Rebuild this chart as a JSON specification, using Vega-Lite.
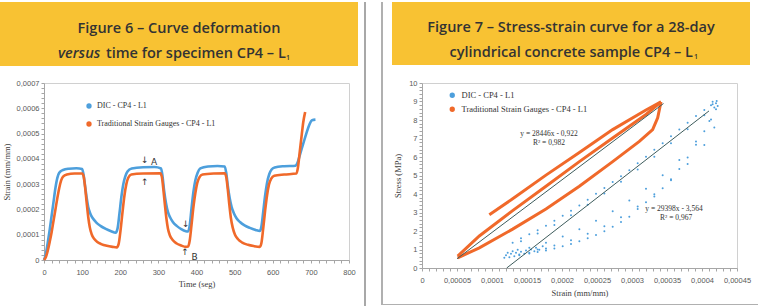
{
  "$schema": "https://vega.github.io/schema/vega-lite/v6.json",
  "background": "#ffffff",
  "padding": {"left": 0, "top": 2, "right": 0, "bottom": 0},
  "config": {
    "view": {"stroke": "#d0d0d0", "strokeWidth": 1},
    "axis": {"grid": false, "domainColor": "#a6a6a6", "tickColor": "#a6a6a6", "tickSize": 3, "labelFont": "Liberation Sans", "labelFontSize": 7.5, "labelColor": "#595959", "titleFont": "Liberation Serif", "titleFontSize": 8.5, "titleFontWeight": "normal", "titleColor": "#404040", "labelOverlap": false, "labelBound": false},
    "legend": {"labelFont": "Liberation Serif", "labelColor": "#333333", "padding": 0}
  },
  "datasets": {
    "fig6": [
      {"s":"DIC - CP4 - L1","t":0,"strain":0},{"s":"DIC - CP4 - L1","t":5,"strain":0.000025},{"s":"DIC - CP4 - L1","t":10,"strain":0.00007},{"s":"DIC - CP4 - L1","t":15,"strain":0.00012},{"s":"DIC - CP4 - L1","t":20,"strain":0.000175},{"s":"DIC - CP4 - L1","t":25,"strain":0.00023},{"s":"DIC - CP4 - L1","t":30,"strain":0.000285},{"s":"DIC - CP4 - L1","t":35,"strain":0.000325},{"s":"DIC - CP4 - L1","t":40,"strain":0.000345},{"s":"DIC - CP4 - L1","t":50,"strain":0.000356},{"s":"DIC - CP4 - L1","t":65,"strain":0.000361},{"s":"DIC - CP4 - L1","t":85,"strain":0.000363},{"s":"DIC - CP4 - L1","t":100,"strain":0.00036},{"s":"DIC - CP4 - L1","t":104,"strain":0.000335},{"s":"DIC - CP4 - L1","t":108,"strain":0.00029},{"s":"DIC - CP4 - L1","t":112,"strain":0.000245},{"s":"DIC - CP4 - L1","t":116,"strain":0.00021},{"s":"DIC - CP4 - L1","t":121,"strain":0.000185},{"s":"DIC - CP4 - L1","t":128,"strain":0.000165},{"s":"DIC - CP4 - L1","t":136,"strain":0.00015},{"s":"DIC - CP4 - L1","t":148,"strain":0.000135},{"s":"DIC - CP4 - L1","t":162,"strain":0.000123},{"s":"DIC - CP4 - L1","t":176,"strain":0.000114},{"s":"DIC - CP4 - L1","t":188,"strain":0.000108},{"s":"DIC - CP4 - L1","t":193,"strain":0.000125},{"s":"DIC - CP4 - L1","t":198,"strain":0.000185},{"s":"DIC - CP4 - L1","t":203,"strain":0.00025},{"s":"DIC - CP4 - L1","t":208,"strain":0.0003},{"s":"DIC - CP4 - L1","t":213,"strain":0.00033},{"s":"DIC - CP4 - L1","t":219,"strain":0.00035},{"s":"DIC - CP4 - L1","t":230,"strain":0.000362},{"s":"DIC - CP4 - L1","t":260,"strain":0.000367},{"s":"DIC - CP4 - L1","t":290,"strain":0.000368},{"s":"DIC - CP4 - L1","t":307,"strain":0.000362},{"s":"DIC - CP4 - L1","t":311,"strain":0.00033},{"s":"DIC - CP4 - L1","t":315,"strain":0.000275},{"s":"DIC - CP4 - L1","t":320,"strain":0.000225},{"s":"DIC - CP4 - L1","t":325,"strain":0.00019},{"s":"DIC - CP4 - L1","t":331,"strain":0.000168},{"s":"DIC - CP4 - L1","t":338,"strain":0.00015},{"s":"DIC - CP4 - L1","t":348,"strain":0.000135},{"s":"DIC - CP4 - L1","t":360,"strain":0.000122},{"s":"DIC - CP4 - L1","t":372,"strain":0.000114},{"s":"DIC - CP4 - L1","t":378,"strain":0.000113},{"s":"DIC - CP4 - L1","t":382,"strain":0.000135},{"s":"DIC - CP4 - L1","t":387,"strain":0.000205},{"s":"DIC - CP4 - L1","t":392,"strain":0.00027},{"s":"DIC - CP4 - L1","t":397,"strain":0.000315},{"s":"DIC - CP4 - L1","t":403,"strain":0.000345},{"s":"DIC - CP4 - L1","t":410,"strain":0.000362},{"s":"DIC - CP4 - L1","t":430,"strain":0.00037},{"s":"DIC - CP4 - L1","t":455,"strain":0.000372},{"s":"DIC - CP4 - L1","t":474,"strain":0.00037},{"s":"DIC - CP4 - L1","t":478,"strain":0.000345},{"s":"DIC - CP4 - L1","t":482,"strain":0.000295},{"s":"DIC - CP4 - L1","t":487,"strain":0.000245},{"s":"DIC - CP4 - L1","t":492,"strain":0.00021},{"s":"DIC - CP4 - L1","t":498,"strain":0.000185},{"s":"DIC - CP4 - L1","t":505,"strain":0.000165},{"s":"DIC - CP4 - L1","t":514,"strain":0.00015},{"s":"DIC - CP4 - L1","t":526,"strain":0.000137},{"s":"DIC - CP4 - L1","t":540,"strain":0.000127},{"s":"DIC - CP4 - L1","t":555,"strain":0.000119},{"s":"DIC - CP4 - L1","t":566,"strain":0.000115},{"s":"DIC - CP4 - L1","t":570,"strain":0.00013},{"s":"DIC - CP4 - L1","t":575,"strain":0.00019},{"s":"DIC - CP4 - L1","t":580,"strain":0.000255},{"s":"DIC - CP4 - L1","t":585,"strain":0.000305},{"s":"DIC - CP4 - L1","t":591,"strain":0.00034},{"s":"DIC - CP4 - L1","t":597,"strain":0.000358},{"s":"DIC - CP4 - L1","t":605,"strain":0.000366},{"s":"DIC - CP4 - L1","t":630,"strain":0.000371},{"s":"DIC - CP4 - L1","t":660,"strain":0.000373},{"s":"DIC - CP4 - L1","t":665,"strain":0.000385},{"s":"DIC - CP4 - L1","t":672,"strain":0.00042},{"s":"DIC - CP4 - L1","t":680,"strain":0.00046},{"s":"DIC - CP4 - L1","t":688,"strain":0.0005},{"s":"DIC - CP4 - L1","t":696,"strain":0.000535},{"s":"DIC - CP4 - L1","t":703,"strain":0.000553},{"s":"DIC - CP4 - L1","t":712,"strain":0.000555},
      {"s":"Traditional Strain Gauges - CP4 - L1","t":0,"strain":0},{"s":"Traditional Strain Gauges - CP4 - L1","t":5,"strain":0.000012},{"s":"Traditional Strain Gauges - CP4 - L1","t":10,"strain":0.000038},{"s":"Traditional Strain Gauges - CP4 - L1","t":15,"strain":0.000072},{"s":"Traditional Strain Gauges - CP4 - L1","t":20,"strain":0.00011},{"s":"Traditional Strain Gauges - CP4 - L1","t":25,"strain":0.000155},{"s":"Traditional Strain Gauges - CP4 - L1","t":30,"strain":0.0002},{"s":"Traditional Strain Gauges - CP4 - L1","t":35,"strain":0.000245},{"s":"Traditional Strain Gauges - CP4 - L1","t":40,"strain":0.000285},{"s":"Traditional Strain Gauges - CP4 - L1","t":45,"strain":0.000315},{"s":"Traditional Strain Gauges - CP4 - L1","t":50,"strain":0.00033},{"s":"Traditional Strain Gauges - CP4 - L1","t":60,"strain":0.000338},{"s":"Traditional Strain Gauges - CP4 - L1","t":80,"strain":0.000342},{"s":"Traditional Strain Gauges - CP4 - L1","t":100,"strain":0.000342},{"s":"Traditional Strain Gauges - CP4 - L1","t":104,"strain":0.00033},{"s":"Traditional Strain Gauges - CP4 - L1","t":108,"strain":0.000285},{"s":"Traditional Strain Gauges - CP4 - L1","t":112,"strain":0.000225},{"s":"Traditional Strain Gauges - CP4 - L1","t":116,"strain":0.00017},{"s":"Traditional Strain Gauges - CP4 - L1","t":120,"strain":0.00013},{"s":"Traditional Strain Gauges - CP4 - L1","t":125,"strain":0.000102},{"s":"Traditional Strain Gauges - CP4 - L1","t":132,"strain":0.000083},{"s":"Traditional Strain Gauges - CP4 - L1","t":140,"strain":0.000071},{"s":"Traditional Strain Gauges - CP4 - L1","t":150,"strain":0.000063},{"s":"Traditional Strain Gauges - CP4 - L1","t":165,"strain":0.000056},{"s":"Traditional Strain Gauges - CP4 - L1","t":180,"strain":0.000052},{"s":"Traditional Strain Gauges - CP4 - L1","t":191,"strain":0.00005},{"s":"Traditional Strain Gauges - CP4 - L1","t":196,"strain":0.000065},{"s":"Traditional Strain Gauges - CP4 - L1","t":201,"strain":0.00012},{"s":"Traditional Strain Gauges - CP4 - L1","t":206,"strain":0.00019},{"s":"Traditional Strain Gauges - CP4 - L1","t":211,"strain":0.000255},{"s":"Traditional Strain Gauges - CP4 - L1","t":216,"strain":0.0003},{"s":"Traditional Strain Gauges - CP4 - L1","t":221,"strain":0.000325},{"s":"Traditional Strain Gauges - CP4 - L1","t":229,"strain":0.000338},{"s":"Traditional Strain Gauges - CP4 - L1","t":260,"strain":0.000342},{"s":"Traditional Strain Gauges - CP4 - L1","t":305,"strain":0.000343},{"s":"Traditional Strain Gauges - CP4 - L1","t":309,"strain":0.00033},{"s":"Traditional Strain Gauges - CP4 - L1","t":313,"strain":0.00028},{"s":"Traditional Strain Gauges - CP4 - L1","t":317,"strain":0.00022},{"s":"Traditional Strain Gauges - CP4 - L1","t":321,"strain":0.000165},{"s":"Traditional Strain Gauges - CP4 - L1","t":325,"strain":0.000125},{"s":"Traditional Strain Gauges - CP4 - L1","t":330,"strain":0.000098},{"s":"Traditional Strain Gauges - CP4 - L1","t":337,"strain":0.00008},{"s":"Traditional Strain Gauges - CP4 - L1","t":347,"strain":0.000066},{"s":"Traditional Strain Gauges - CP4 - L1","t":360,"strain":0.000057},{"s":"Traditional Strain Gauges - CP4 - L1","t":372,"strain":0.000052},{"s":"Traditional Strain Gauges - CP4 - L1","t":378,"strain":0.000053},{"s":"Traditional Strain Gauges - CP4 - L1","t":382,"strain":0.000075},{"s":"Traditional Strain Gauges - CP4 - L1","t":387,"strain":0.00014},{"s":"Traditional Strain Gauges - CP4 - L1","t":392,"strain":0.00021},{"s":"Traditional Strain Gauges - CP4 - L1","t":397,"strain":0.000265},{"s":"Traditional Strain Gauges - CP4 - L1","t":402,"strain":0.000305},{"s":"Traditional Strain Gauges - CP4 - L1","t":408,"strain":0.000328},{"s":"Traditional Strain Gauges - CP4 - L1","t":416,"strain":0.000338},{"s":"Traditional Strain Gauges - CP4 - L1","t":445,"strain":0.000342},{"s":"Traditional Strain Gauges - CP4 - L1","t":474,"strain":0.000343},{"s":"Traditional Strain Gauges - CP4 - L1","t":478,"strain":0.000328},{"s":"Traditional Strain Gauges - CP4 - L1","t":482,"strain":0.00028},{"s":"Traditional Strain Gauges - CP4 - L1","t":486,"strain":0.00022},{"s":"Traditional Strain Gauges - CP4 - L1","t":490,"strain":0.000168},{"s":"Traditional Strain Gauges - CP4 - L1","t":495,"strain":0.000128},{"s":"Traditional Strain Gauges - CP4 - L1","t":501,"strain":0.0001},{"s":"Traditional Strain Gauges - CP4 - L1","t":509,"strain":0.000082},{"s":"Traditional Strain Gauges - CP4 - L1","t":520,"strain":0.000069},{"s":"Traditional Strain Gauges - CP4 - L1","t":535,"strain":0.00006},{"s":"Traditional Strain Gauges - CP4 - L1","t":550,"strain":0.000055},{"s":"Traditional Strain Gauges - CP4 - L1","t":566,"strain":0.000052},{"s":"Traditional Strain Gauges - CP4 - L1","t":570,"strain":0.000065},{"s":"Traditional Strain Gauges - CP4 - L1","t":575,"strain":0.000125},{"s":"Traditional Strain Gauges - CP4 - L1","t":580,"strain":0.000195},{"s":"Traditional Strain Gauges - CP4 - L1","t":585,"strain":0.000255},{"s":"Traditional Strain Gauges - CP4 - L1","t":590,"strain":0.000298},{"s":"Traditional Strain Gauges - CP4 - L1","t":596,"strain":0.000322},{"s":"Traditional Strain Gauges - CP4 - L1","t":604,"strain":0.000333},{"s":"Traditional Strain Gauges - CP4 - L1","t":630,"strain":0.000338},{"s":"Traditional Strain Gauges - CP4 - L1","t":662,"strain":0.000342},{"s":"Traditional Strain Gauges - CP4 - L1","t":666,"strain":0.000365},{"s":"Traditional Strain Gauges - CP4 - L1","t":671,"strain":0.00043},{"s":"Traditional Strain Gauges - CP4 - L1","t":676,"strain":0.000495},{"s":"Traditional Strain Gauges - CP4 - L1","t":680,"strain":0.000545},{"s":"Traditional Strain Gauges - CP4 - L1","t":685,"strain":0.000585}
    ],
    "fig6notes": [
      {"t":264,"strain":0.000394,"label":"↓"},{"t":289,"strain":0.000386,"label":"A"},{"t":264,"strain":0.00031,"label":"↑"},
      {"t":372,"strain":0.000144,"label":"↓"},{"t":370,"strain":0.000033,"label":"↑"},{"t":395,"strain":0.00001,"label":"B"}
    ],
    "fig7": [
      {"s":"Traditional Strain Gauges - CP4 - L1","b":"top","i":1,"strain":0.0000962,"stress":2.88},{"s":"Traditional Strain Gauges - CP4 - L1","b":"top","i":2,"strain":0.0001295,"stress":3.74},{"s":"Traditional Strain Gauges - CP4 - L1","b":"top","i":3,"strain":0.0001771,"stress":5.02},{"s":"Traditional Strain Gauges - CP4 - L1","b":"top","i":4,"strain":0.0002248,"stress":6.24},{"s":"Traditional Strain Gauges - CP4 - L1","b":"top","i":5,"strain":0.0002724,"stress":7.48},{"s":"Traditional Strain Gauges - CP4 - L1","b":"top","i":6,"strain":0.00032,"stress":8.54},{"s":"Traditional Strain Gauges - CP4 - L1","b":"top","i":7,"strain":0.0003414,"stress":8.98},
      {"s":"Traditional Strain Gauges - CP4 - L1","b":"mid","i":1,"strain":0.000051,"stress":0.64},{"s":"Traditional Strain Gauges - CP4 - L1","b":"mid","i":2,"strain":0.0000819,"stress":1.73},{"s":"Traditional Strain Gauges - CP4 - L1","b":"mid","i":3,"strain":0.0001295,"stress":3.1},{"s":"Traditional Strain Gauges - CP4 - L1","b":"mid","i":4,"strain":0.0001771,"stress":4.42},{"s":"Traditional Strain Gauges - CP4 - L1","b":"mid","i":5,"strain":0.0002248,"stress":5.75},{"s":"Traditional Strain Gauges - CP4 - L1","b":"mid","i":6,"strain":0.0002724,"stress":7.03},{"s":"Traditional Strain Gauges - CP4 - L1","b":"mid","i":7,"strain":0.00032,"stress":8.3},{"s":"Traditional Strain Gauges - CP4 - L1","b":"mid","i":8,"strain":0.0003414,"stress":8.98},
      {"s":"Traditional Strain Gauges - CP4 - L1","b":"bot","i":1,"strain":0.000051,"stress":0.55},{"s":"Traditional Strain Gauges - CP4 - L1","b":"bot","i":2,"strain":0.0000819,"stress":1.09},{"s":"Traditional Strain Gauges - CP4 - L1","b":"bot","i":3,"strain":0.0001295,"stress":2.1},{"s":"Traditional Strain Gauges - CP4 - L1","b":"bot","i":4,"strain":0.0001771,"stress":3.19},{"s":"Traditional Strain Gauges - CP4 - L1","b":"bot","i":5,"strain":0.0002248,"stress":4.42},{"s":"Traditional Strain Gauges - CP4 - L1","b":"bot","i":6,"strain":0.0002724,"stress":5.75},{"s":"Traditional Strain Gauges - CP4 - L1","b":"bot","i":7,"strain":0.0003105,"stress":6.84},{"s":"Traditional Strain Gauges - CP4 - L1","b":"bot","i":8,"strain":0.0003295,"stress":7.48},{"s":"Traditional Strain Gauges - CP4 - L1","b":"bot","i":9,"strain":0.0003367,"stress":8.12},{"s":"Traditional Strain Gauges - CP4 - L1","b":"bot","i":10,"strain":0.0003414,"stress":8.98},
      {"s":"DIC - CP4 - L1","b":"c","i":1,"strain":0.0001176,"stress":0.55},{"s":"DIC - CP4 - L1","b":"c","i":2,"strain":0.00012,"stress":0.69},{"s":"DIC - CP4 - L1","b":"c","i":3,"strain":0.0001248,"stress":0.58},{"s":"DIC - CP4 - L1","b":"c","i":4,"strain":0.0001271,"stress":0.77},{"s":"DIC - CP4 - L1","b":"c","i":5,"strain":0.0001319,"stress":0.64},{"s":"DIC - CP4 - L1","b":"c","i":6,"strain":0.0001343,"stress":0.82},{"s":"DIC - CP4 - L1","b":"c","i":7,"strain":0.000139,"stress":0.69},{"s":"DIC - CP4 - L1","b":"c","i":8,"strain":0.0001414,"stress":0.88},{"s":"DIC - CP4 - L1","b":"c","i":9,"strain":0.0001462,"stress":0.77},{"s":"DIC - CP4 - L1","b":"c","i":10,"strain":0.0001486,"stress":0.95},{"s":"DIC - CP4 - L1","b":"c","i":11,"strain":0.0001533,"stress":0.82},{"s":"DIC - CP4 - L1","b":"c","i":12,"strain":0.0001557,"stress":1.0},{"s":"DIC - CP4 - L1","b":"c","i":13,"strain":0.0001605,"stress":0.91},{"s":"DIC - CP4 - L1","b":"c","i":14,"strain":0.0001629,"stress":1.1},{"s":"DIC - CP4 - L1","b":"c","i":15,"strain":0.0001676,"stress":0.99},{"s":"DIC - CP4 - L1","b":"c","i":16,"strain":0.0001724,"stress":1.17},{"s":"DIC - CP4 - L1","b":"c","i":17,"strain":0.0001771,"stress":1.06},{"s":"DIC - CP4 - L1","b":"c","i":18,"strain":0.0001224,"stress":0.82},{"s":"DIC - CP4 - L1","b":"c","i":19,"strain":0.0001295,"stress":0.91},{"s":"DIC - CP4 - L1","b":"c","i":20,"strain":0.0001367,"stress":0.99},
      {"s":"DIC - CP4 - L1","b":"u","i":1,"strain":0.0001295,"stress":1.37},{"s":"DIC - CP4 - L1","b":"u","i":2,"strain":0.0001414,"stress":1.61},{"s":"DIC - CP4 - L1","b":"u","i":3,"strain":0.0001533,"stress":1.83},{"s":"DIC - CP4 - L1","b":"u","i":4,"strain":0.0001652,"stress":2.04},{"s":"DIC - CP4 - L1","b":"u","i":5,"strain":0.0001771,"stress":2.28},{"s":"DIC - CP4 - L1","b":"u","i":6,"strain":0.0001891,"stress":2.56},{"s":"DIC - CP4 - L1","b":"u","i":7,"strain":0.000201,"stress":2.83},{"s":"DIC - CP4 - L1","b":"u","i":8,"strain":0.0002129,"stress":3.1},{"s":"DIC - CP4 - L1","b":"u","i":9,"strain":0.0002248,"stress":3.38},{"s":"DIC - CP4 - L1","b":"u","i":10,"strain":0.0002367,"stress":3.69},{"s":"DIC - CP4 - L1","b":"u","i":11,"strain":0.0002486,"stress":4.02},{"s":"DIC - CP4 - L1","b":"u","i":12,"strain":0.0002605,"stress":4.33},{"s":"DIC - CP4 - L1","b":"u","i":13,"strain":0.0002724,"stress":4.65},{"s":"DIC - CP4 - L1","b":"u","i":14,"strain":0.0002843,"stress":4.96},{"s":"DIC - CP4 - L1","b":"u","i":15,"strain":0.0002962,"stress":5.29},{"s":"DIC - CP4 - L1","b":"u","i":16,"strain":0.0003081,"stress":5.66},{"s":"DIC - CP4 - L1","b":"u","i":17,"strain":0.00032,"stress":6.02},{"s":"DIC - CP4 - L1","b":"u","i":18,"strain":0.0003319,"stress":6.39},{"s":"DIC - CP4 - L1","b":"u","i":19,"strain":0.0003438,"stress":6.75},{"s":"DIC - CP4 - L1","b":"u","i":20,"strain":0.0003557,"stress":7.12},{"s":"DIC - CP4 - L1","b":"u","i":21,"strain":0.0003676,"stress":7.48},{"s":"DIC - CP4 - L1","b":"u","i":22,"strain":0.0003795,"stress":7.85},{"s":"DIC - CP4 - L1","b":"u","i":23,"strain":0.0003914,"stress":8.21},{"s":"DIC - CP4 - L1","b":"u","i":24,"strain":0.0004033,"stress":8.54},{"s":"DIC - CP4 - L1","b":"u","i":25,"strain":0.0004152,"stress":8.85},
      {"s":"DIC - CP4 - L1","b":"u2","i":1,"strain":0.0001414,"stress":1.45},{"s":"DIC - CP4 - L1","b":"u2","i":2,"strain":0.0001652,"stress":1.86},{"s":"DIC - CP4 - L1","b":"u2","i":3,"strain":0.0001891,"stress":2.33},{"s":"DIC - CP4 - L1","b":"u2","i":4,"strain":0.0002129,"stress":2.85},{"s":"DIC - CP4 - L1","b":"u2","i":5,"strain":0.0002367,"stress":3.42},{"s":"DIC - CP4 - L1","b":"u2","i":6,"strain":0.0002605,"stress":4.03},{"s":"DIC - CP4 - L1","b":"u2","i":7,"strain":0.0002843,"stress":4.66},{"s":"DIC - CP4 - L1","b":"u2","i":8,"strain":0.0003081,"stress":5.33},{"s":"DIC - CP4 - L1","b":"u2","i":9,"strain":0.0003319,"stress":6.02},{"s":"DIC - CP4 - L1","b":"u2","i":10,"strain":0.0003557,"stress":6.74},{"s":"DIC - CP4 - L1","b":"u2","i":11,"strain":0.0003795,"stress":7.5},{"s":"DIC - CP4 - L1","b":"u2","i":12,"strain":0.0004033,"stress":8.26},
      {"s":"DIC - CP4 - L1","b":"l1","i":1,"strain":0.000139,"stress":0.73},{"s":"DIC - CP4 - L1","b":"l1","i":2,"strain":0.0001533,"stress":0.79},{"s":"DIC - CP4 - L1","b":"l1","i":3,"strain":0.0001652,"stress":0.86},{"s":"DIC - CP4 - L1","b":"l1","i":4,"strain":0.0001771,"stress":0.95},{"s":"DIC - CP4 - L1","b":"l1","i":5,"strain":0.0001891,"stress":1.06},{"s":"DIC - CP4 - L1","b":"l1","i":6,"strain":0.000201,"stress":1.17},{"s":"DIC - CP4 - L1","b":"l1","i":7,"strain":0.0002129,"stress":1.3},{"s":"DIC - CP4 - L1","b":"l1","i":8,"strain":0.0002248,"stress":1.44},{"s":"DIC - CP4 - L1","b":"l1","i":9,"strain":0.0002367,"stress":1.61},{"s":"DIC - CP4 - L1","b":"l1","i":10,"strain":0.0002486,"stress":1.79},{"s":"DIC - CP4 - L1","b":"l1","i":11,"strain":0.0002605,"stress":1.99},{"s":"DIC - CP4 - L1","b":"l1","i":12,"strain":0.0002724,"stress":2.23},{"s":"DIC - CP4 - L1","b":"l1","i":13,"strain":0.0002843,"stress":2.48},{"s":"DIC - CP4 - L1","b":"l1","i":14,"strain":0.0002962,"stress":2.77},{"s":"DIC - CP4 - L1","b":"l1","i":15,"strain":0.0003081,"stress":3.19},{"s":"DIC - CP4 - L1","b":"l1","i":16,"strain":0.00032,"stress":3.56},{"s":"DIC - CP4 - L1","b":"l1","i":17,"strain":0.0003319,"stress":3.87},{"s":"DIC - CP4 - L1","b":"l1","i":18,"strain":0.0003438,"stress":4.31},{"s":"DIC - CP4 - L1","b":"l1","i":19,"strain":0.0003557,"stress":4.8},{"s":"DIC - CP4 - L1","b":"l1","i":20,"strain":0.0003676,"stress":5.35},{"s":"DIC - CP4 - L1","b":"l1","i":21,"strain":0.0003795,"stress":5.97},{"s":"DIC - CP4 - L1","b":"l1","i":22,"strain":0.0003914,"stress":6.66},{"s":"DIC - CP4 - L1","b":"l1","i":23,"strain":0.0004033,"stress":7.39},{"s":"DIC - CP4 - L1","b":"l1","i":24,"strain":0.0004129,"stress":8.03},{"s":"DIC - CP4 - L1","b":"l1","i":25,"strain":0.00042,"stress":8.58},
      {"s":"DIC - CP4 - L1","b":"l3","i":1,"strain":0.0001652,"stress":1.0},{"s":"DIC - CP4 - L1","b":"l3","i":2,"strain":0.0001891,"stress":1.22},{"s":"DIC - CP4 - L1","b":"l3","i":3,"strain":0.0002129,"stress":1.5},{"s":"DIC - CP4 - L1","b":"l3","i":4,"strain":0.0002367,"stress":1.85},{"s":"DIC - CP4 - L1","b":"l3","i":5,"strain":0.0002605,"stress":2.26},{"s":"DIC - CP4 - L1","b":"l3","i":6,"strain":0.0002843,"stress":2.75},{"s":"DIC - CP4 - L1","b":"l3","i":7,"strain":0.0003081,"stress":3.32},{"s":"DIC - CP4 - L1","b":"l3","i":8,"strain":0.0003319,"stress":3.98},{"s":"DIC - CP4 - L1","b":"l3","i":9,"strain":0.0003557,"stress":4.74},{"s":"DIC - CP4 - L1","b":"l3","i":10,"strain":0.0003795,"stress":5.62},{"s":"DIC - CP4 - L1","b":"l3","i":11,"strain":0.0004033,"stress":6.65},{"s":"DIC - CP4 - L1","b":"l3","i":12,"strain":0.0004176,"stress":7.6},
      {"s":"DIC - CP4 - L1","b":"l2","i":1,"strain":0.0001533,"stress":1.1},{"s":"DIC - CP4 - L1","b":"l2","i":2,"strain":0.0001771,"stress":1.37},{"s":"DIC - CP4 - L1","b":"l2","i":3,"strain":0.000201,"stress":1.7},{"s":"DIC - CP4 - L1","b":"l2","i":4,"strain":0.0002248,"stress":2.1},{"s":"DIC - CP4 - L1","b":"l2","i":5,"strain":0.0002486,"stress":2.56},{"s":"DIC - CP4 - L1","b":"l2","i":6,"strain":0.0002724,"stress":3.07},{"s":"DIC - CP4 - L1","b":"l2","i":7,"strain":0.0002962,"stress":3.65},{"s":"DIC - CP4 - L1","b":"l2","i":8,"strain":0.00032,"stress":4.29},{"s":"DIC - CP4 - L1","b":"l2","i":9,"strain":0.0003438,"stress":5.02},{"s":"DIC - CP4 - L1","b":"l2","i":10,"strain":0.0003676,"stress":5.84},{"s":"DIC - CP4 - L1","b":"l2","i":11,"strain":0.0003914,"stress":6.84},{"s":"DIC - CP4 - L1","b":"l2","i":12,"strain":0.0004105,"stress":7.94},
      {"s":"DIC - CP4 - L1","b":"tr","i":1,"strain":0.0004152,"stress":8.98},{"s":"DIC - CP4 - L1","b":"tr","i":2,"strain":0.00042,"stress":8.91},{"s":"DIC - CP4 - L1","b":"tr","i":3,"strain":0.0004224,"stress":8.76},{"s":"DIC - CP4 - L1","b":"tr","i":4,"strain":0.0004176,"stress":8.67},{"s":"DIC - CP4 - L1","b":"tr","i":5,"strain":0.0004129,"stress":8.8},{"s":"DIC - CP4 - L1","b":"tr","i":6,"strain":0.000421,"stress":9.03}
    ],
    "fig7fit": [
      {"fit":"trad","strain":0.00005,"stress":0.5},{"fit":"trad","strain":0.000345,"stress":8.89},
      {"fit":"dic","strain":0.000121,"stress":0.0},{"fit":"dic","strain":0.00041,"stress":8.49}
    ],
    "fig7notes": [
      {"strain":0.0001814,"stress":7.24,"label":"y = 28446x - 0,922"},
      {"strain":0.0001814,"stress":6.76,"label":"R² = 0,982"},
      {"strain":0.00036,"stress":3.19,"label":"y = 29398x - 3,564"},
      {"strain":0.000363,"stress":2.7,"label":"R² = 0,967"}
    ],
    "headL": [
      {"line":1,"part":"main","text":"Figure 6 – Curve deformation"},
      {"line":2,"part":"it","text":"versus"},
      {"line":2,"part":"rest","text":"time for specimen CP4 – L"},
      {"line":2,"part":"sub","text":"1"}
    ],
    "headR": [
      {"line":1,"part":"main","text":"Figure 7 – Stress-strain curve for a 28-day"},
      {"line":2,"part":"rest","text":"cylindrical concrete sample CP4 – L"},
      {"line":2,"part":"sub","text":"1"}
    ]
  },
  "spacing": 6,
  "resolve": {"scale": {"color": "independent"}, "legend": {"color": "independent"}},
  "hconcat": [
    {
      "spacing": 12,
      "resolve": {"scale": {"color": "independent"}, "legend": {"color": "independent"}},
      "vconcat": [
        {
          "width": 358, "height": 64,
          "view": {"fill": "#f8c233", "stroke": null},
          "data": {"name": "headL"},
          "encoding": {"y": {"field": "line", "type": "ordinal", "axis": null, "scale": {"padding": 0.78}}},
          "layer": [
            {"transform": [{"filter": "datum.part == 'main'"}], "mark": {"type": "text", "font": "Open Sans", "fontSize": 14.5, "fontWeight": 600, "color": "#333333", "baseline": "middle", "align": "center", "dy": 7}, "encoding": {"text": {"field": "text"}}},
            {"transform": [{"filter": "datum.part == 'it'"}], "mark": {"type": "text", "font": "Open Sans", "fontSize": 14.5, "fontWeight": 600, "fontStyle": "italic", "color": "#333333", "baseline": "middle", "align": "left", "dx": -121, "dy": 7}, "encoding": {"text": {"field": "text"}}},
            {"transform": [{"filter": "datum.part == 'rest'"}], "mark": {"type": "text", "font": "Open Sans", "fontSize": 14.5, "fontWeight": 600, "color": "#333333", "baseline": "middle", "align": "left", "dx": -73, "dy": 7}, "encoding": {"text": {"field": "text"}}},
            {"transform": [{"filter": "datum.part == 'sub'"}], "mark": {"type": "text", "font": "Open Sans", "fontSize": 7, "fontWeight": 600, "color": "#333333", "baseline": "middle", "align": "left", "dx": 107, "dy": 11}, "encoding": {"text": {"field": "text"}}}
          ]
        },
        {
          "spacing": 0,
          "resolve": {"scale": {"color": "independent"}, "legend": {"color": "independent"}},
          "hconcat": [
            {"width": 1, "height": 1, "view": {"stroke": null, "fill": null}, "data": {"values": []}, "mark": "point"},
            {
              "width": 305, "height": 177,
              "encoding": {
                "x": {"field": "t", "type": "quantitative", "scale": {"domain": [0, 800], "nice": false},
                      "axis": {"title": "Time (seg)", "values": [0,20,40,60,80,100,120,140,160,180,200,220,240,260,280,300,320,340,360,380,400,420,440,460,480,500,520,540,560,580,600,620,640,660,680,700,720,740,760,780,800], "labelExpr": "datum.value % 100 == 0 ? toString(datum.value) : ''", "labelFlush": false, "labelPadding": 5, "titlePadding": 4}},
                "y": {"field": "strain", "type": "quantitative", "scale": {"domain": [0, 0.0007], "nice": false},
                      "axis": {"title": "Strain (mm/mm)", "values": [0,0.00002,0.00004,0.00006,0.00008,0.0001,0.00012,0.00014,0.00016,0.00018,0.0002,0.00022,0.00024,0.00026,0.00028,0.0003,0.00032,0.00034,0.00036,0.00038,0.0004,0.00042,0.00044,0.00046,0.00048,0.0005,0.00052,0.00054,0.00056,0.00058,0.0006,0.00062,0.00064,0.00066,0.00068,0.0007], "labelExpr": "round(datum.value*100000) % 10 == 0 ? replace(toString(datum.value), '.', ',') : ''", "labelPadding": 2, "titlePadding": 5}}
              },
              "layer": [
                {
                  "data": {"name": "fig6"},
                  "mark": {"type": "line", "strokeWidth": 2.6, "interpolate": "monotone"},
                  "encoding": {
                    "color": {"field": "s", "type": "nominal",
                      "scale": {"domain": ["DIC - CP4 - L1", "Traditional Strain Gauges - CP4 - L1"], "range": ["#4d9fdc", "#f0692a"]},
                      "legend": {"title": null, "orient": "none", "legendX": 41, "legendY": 19, "symbolType": "circle", "symbolSize": 8, "symbolStrokeWidth": 2.5, "labelFontSize": 8, "rowPadding": 4, "labelOffset": 4}}
                  }
                },
                {
                  "data": {"name": "fig6notes"},
                  "mark": {"type": "text", "font": "DejaVu Sans", "fontSize": 9, "color": "#333333", "baseline": "middle"},
                  "encoding": {"text": {"field": "label"}}
                }
              ]
            }
          ]
        }
      ]
    },
    {
      "spacing": 15,
      "resolve": {"scale": {"color": "independent"}, "legend": {"color": "independent"}},
      "hconcat": [
        {"width": 2, "height": 304, "view": {"fill": "#a8a8a8", "stroke": null}, "data": {"values": []}, "mark": "point"},
        {
          "spacing": 0,
          "resolve": {"scale": {"color": "independent"}, "legend": {"color": "independent"}},
          "vconcat": [
            {
              "spacing": 9,
              "resolve": {"scale": {"color": "independent"}, "legend": {"color": "independent"}},
              "hconcat": [
                {"width": 2, "height": 302, "view": {"fill": "#b0b0b0", "stroke": null}, "data": {"values": []}, "mark": "point"},
                {
                  "spacing": 13,
                  "resolve": {"scale": {"color": "independent"}, "legend": {"color": "independent"}},
                  "vconcat": [
                    {
                      "width": 358, "height": 63,
                      "view": {"fill": "#f8c233", "stroke": null},
                      "data": {"name": "headR"},
                      "encoding": {"y": {"field": "line", "type": "ordinal", "axis": null, "scale": {"padding": 0.78}}},
                      "layer": [
                        {"transform": [{"filter": "datum.part == 'main'"}], "mark": {"type": "text", "font": "Open Sans", "fontSize": 14.5, "fontWeight": 600, "color": "#333333", "baseline": "middle", "align": "center", "dy": 7}, "encoding": {"text": {"field": "text"}}},
                        {"transform": [{"filter": "datum.part == 'rest'"}], "mark": {"type": "text", "font": "Open Sans", "fontSize": 14.5, "fontWeight": 600, "color": "#333333", "baseline": "middle", "align": "right", "dx": 122, "dy": 7}, "encoding": {"text": {"field": "text"}}},
                        {"transform": [{"filter": "datum.part == 'sub'"}], "mark": {"type": "text", "font": "Open Sans", "fontSize": 7, "fontWeight": 600, "color": "#333333", "baseline": "middle", "align": "left", "dx": 123, "dy": 11}, "encoding": {"text": {"field": "text"}}}
                      ]
                    },
                    {
                      "spacing": 0,
                      "resolve": {"scale": {"color": "independent"}, "legend": {"color": "independent"}},
                      "hconcat": [
                        {"width": 1, "height": 1, "view": {"stroke": null, "fill": null}, "data": {"values": []}, "mark": "point"},
                        {
                          "width": 315, "height": 185,
                          "encoding": {
                            "x": {"field": "strain", "type": "quantitative", "scale": {"domain": [0, 0.00045], "nice": false},
                                  "axis": {"title": "Strain (mm/mm)", "values": [0,0.00001,0.00002,0.00003,0.00004,0.00005,0.00006,0.00007,0.00008,0.00009,0.0001,0.00011,0.00012,0.00013,0.00014,0.00015,0.00016,0.00017,0.00018,0.00019,0.0002,0.00021,0.00022,0.00023,0.00024,0.00025,0.00026,0.00027,0.00028,0.00029,0.0003,0.00031,0.00032,0.00033,0.00034,0.00035,0.00036,0.00037,0.00038,0.00039,0.0004,0.00041,0.00042,0.00043,0.00044,0.00045], "labelExpr": "round(datum.value*100000) % 5 == 0 ? replace(toString(datum.value), '.', ',') : ''", "labelFlush": false, "labelPadding": 5, "titlePadding": 5}},
                            "y": {"field": "stress", "type": "quantitative", "scale": {"domain": [0, 10], "nice": false},
                                  "axis": {"title": "Stress (MPa)", "values": [0,0.2,0.4,0.6,0.8,1,1.2,1.4,1.6,1.8,2,2.2,2.4,2.6,2.8,3,3.2,3.4,3.6,3.8,4,4.2,4.4,4.6,4.8,5,5.2,5.4,5.6,5.8,6,6.2,6.4,6.6,6.8,7,7.2,7.4,7.6,7.8,8,8.2,8.4,8.6,8.8,9,9.2,9.4,9.6,9.8,10], "labelExpr": "round(datum.value*10) % 10 == 0 ? toString(round(datum.value)) : ''", "labelPadding": 2, "titlePadding": 6}}
                          },
                          "layer": [
                            {
                              "data": {"name": "fig7"},
                              "transform": [{"filter": "datum.s != 'DIC - CP4 - L1'"}],
                              "mark": {"type": "line", "strokeWidth": 3},
                              "encoding": {
                                "color": {"field": "s", "type": "nominal", "scale": {"domain": ["DIC - CP4 - L1", "Traditional Strain Gauges - CP4 - L1"], "range": ["#4d9fdc", "#f0692a"]},
                                  "legend": {"title": null, "orient": "none", "legendX": 26, "legendY": 8, "symbolType": "circle", "symbolSize": 8, "symbolStrokeWidth": 2.5, "labelFontSize": 8.5, "rowPadding": 0, "labelOffset": 5}},
                                "detail": {"field": "b"},
                                "order": {"field": "i", "type": "quantitative"}
                              }
                            },
                            {
                              "data": {"name": "fig7"},
                              "transform": [{"filter": "datum.s == 'DIC - CP4 - L1'"}],
                              "mark": {"type": "circle", "size": 4, "opacity": 1},
                              "encoding": {
                                "color": {"field": "s", "type": "nominal",
                                  "legend": {"title": null, "orient": "none", "legendX": 26, "legendY": 8, "symbolType": "circle", "symbolSize": 8, "symbolStrokeWidth": 2.5, "labelFontSize": 8.5, "rowPadding": 0, "labelOffset": 5}}
                              }
                            },
                            {
                              "data": {"name": "fig7fit"},
                              "mark": {"type": "line", "strokeWidth": 1, "color": "#3e5c5c"},
                              "encoding": {"detail": {"field": "fit"}}
                            },
                            {
                              "data": {"name": "fig7notes"},
                              "mark": {"type": "text", "font": "Liberation Serif", "fontSize": 7.5, "color": "#333333", "baseline": "middle"},
                              "encoding": {"text": {"field": "label"}}
                            }
                          ]
                        }
                      ]
                    }
                  ]
                }
              ]
            },
            {"width": 377, "height": 1, "view": {"fill": "#b0b0b0", "stroke": null}, "data": {"values": []}, "mark": "point"}
          ]
        }
      ]
    }
  ]
}
